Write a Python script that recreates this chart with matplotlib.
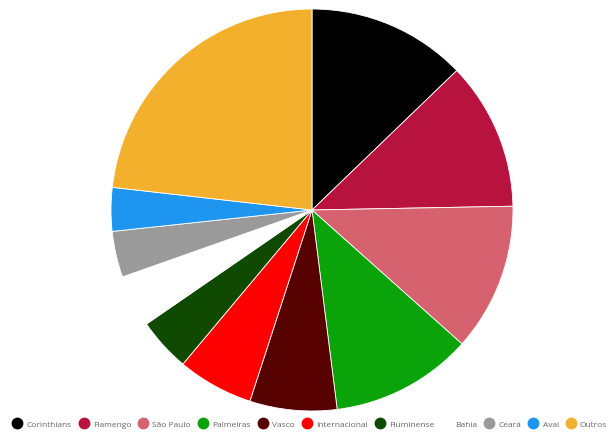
import matplotlib.pyplot as plt
from matplotlib.lines import Line2D

times = ['Corinthians', 'Flamengo', 'São Paulo', 'Palmeiras', 'Vasco', 'Internacional',
         'Fluminense', 'Bahia', 'Ceará', 'Avaí', 'Outros']
torcida = [12.8, 11.9, 11.9, 11.4, 7.0, 6.1, 4.3, 4.2, 3.7, 3.5, 23.2]
cores = ['#000000', '#b8123f', '#d6616f', '#0aa30a', '#560000', '#ff0000',
         '#0f4a00', '#ffffff', '#9a9a9a', '#1e96f0', '#f3b02c']

fig = plt.figure(figsize=(6.14, 4.39), dpi=100)
ax = fig.add_axes([0.1808, 0.0615, 0.6547, 0.9157])
ax.pie(torcida, colors=cores, startangle=90, counterclock=False, radius=1,
       wedgeprops={'edgecolor': '#ffffff', 'linewidth': 0.6})
ax.set_xlim(-1, 1)
ax.set_ylim(-1, 1)
ax.set_aspect('equal')
ax.axis('off')

handles = [Line2D([], [], marker='o', linestyle='', markersize=7.5,
                  markerfacecolor=c, markeredgecolor=c) for c in cores]
leg = fig.legend(handles, times, loc='center', bbox_to_anchor=(0.505, 0.031), ncol=11,
                 frameon=False, handletextpad=0.6, columnspacing=0.95,
                 handlelength=1.0, labelcolor='#666666',
                 prop={'family': 'Open Sans', 'size': 6.0})

fig.savefig('out.png', dpi=100)
